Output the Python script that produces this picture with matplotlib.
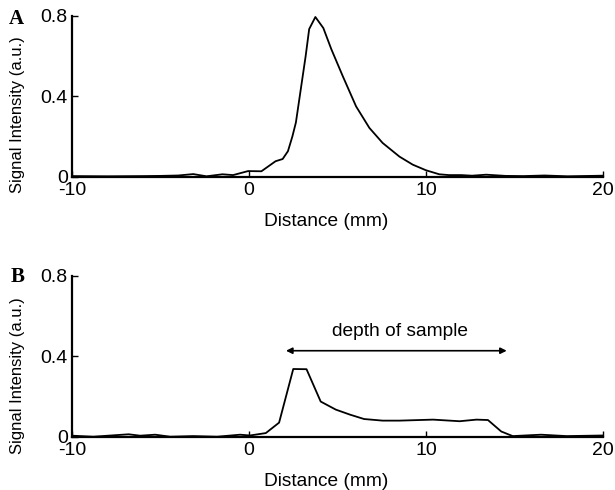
import matplotlib
matplotlib.use("Agg")
import matplotlib.pyplot as plt

# ---- data ----
a_x = [-10, -8, -6, -5, -4, -3.15, -2.4, -1.5, -0.9, -0.05, 0.7, 1.5, 1.9, 2.2, 2.45,
       2.65, 2.95, 3.2, 3.4, 3.75, 4.2, 4.65, 5.3, 6.05, 6.8, 7.55, 8.5, 9.25, 10.0,
       10.75, 11.3, 12.0, 12.6, 13.4, 14.5, 15.5, 16.7, 18.0, 20.0]
a_y = [0.003, 0.002, 0.003, 0.004, 0.006, 0.013, 0.002, 0.012, 0.008, 0.028, 0.027,
       0.077, 0.088, 0.127, 0.20, 0.27, 0.45, 0.60, 0.735, 0.795, 0.74, 0.635, 0.50,
       0.35, 0.243, 0.168, 0.10, 0.06, 0.032, 0.012, 0.008, 0.008, 0.005, 0.01, 0.004,
       0.003, 0.006, 0.002, 0.005]

b_x = [-10, -8.8, -6.8, -6.15, -5.3, -4.45, -3.15, -1.8, -0.5, 0.05, 0.95, 1.7, 2.5,
       3.25, 4.05, 4.9, 5.7, 6.5, 7.55, 8.5, 10.4, 11.9, 12.85, 13.5, 14.25, 14.9,
       16.5, 17.95, 20]
b_y = [0.005, 0.0, 0.012, 0.005, 0.01, 0.0, 0.003, 0.0, 0.01, 0.006, 0.018, 0.07,
       0.337, 0.336, 0.175, 0.135, 0.11, 0.088, 0.08, 0.08, 0.085, 0.077, 0.085,
       0.083, 0.026, 0.003, 0.01, 0.003, 0.006]

x_ticks = [-10, 0, 10, 20]
x_ticklabels = ["-10", "0", "10", "20"]
y_ticks = [0, 0.4, 0.8]
y_ticklabels = ["0", "0.4", "0.8"]
panel_labels = ["A", "B"]
x_label = "Distance (mm)"
y_label = "Signal Intensity (a.u.)"
depth_text = "depth of sample"
depth_span = [2.09, 14.56]
depth_arrow_y = 0.428
depth_text_pos = [8.53, 0.50]

plt.rcParams["font.family"] = ["Liberation Sans", "DejaVu Sans"]

fig = plt.figure(figsize=(6.15, 4.9), dpi=100)

ax_left = 72 / 615
ax_width = (603 - 72) / 615
ax_h = (176.7 - 16) / 490
ax_a = fig.add_axes([ax_left, 1 - 176.7 / 490, ax_width, ax_h])
ax_b = fig.add_axes([ax_left, 1 - 436.7 / 490, ax_width, ax_h])

for ax, xs, ys in [(ax_a, a_x, a_y), (ax_b, b_x, b_y)]:
    ax.plot(xs, ys, color="black", lw=1.3, clip_on=False, zorder=3)
    ax.set_xlim(-10, 20)
    ax.set_ylim(0, 0.8)
    ax.set_xticks(x_ticks)
    ax.set_xticklabels(x_ticklabels)
    ax.set_yticks(y_ticks)
    ax.set_yticklabels(y_ticklabels)
    ax.spines["top"].set_visible(False)
    ax.spines["right"].set_visible(False)
    for s in ["left", "bottom"]:
        ax.spines[s].set_linewidth(1.6)
        ax.spines[s].set_zorder(4)
    ax.tick_params(direction="in", length=4, width=1.0, labelsize=14, pad=3,
                   colors="black")
    ax.tick_params(axis="x", pad=3.5)

# x labels
for base in [225.7, 485.7]:
    fig.text(325.8 / 615, 1 - base / 490, x_label, ha="center", va="baseline",
             fontsize=13.8)
# y labels
for yc in [115, 376]:
    fig.text(17.5 / 615, 1 - yc / 490, y_label, rotation=90, ha="center",
             va="center", fontsize=12)
# panel letters
for lab, (px, py) in zip(panel_labels, [(16, 19), (17.5, 277.5)]):
    fig.text(px / 615, 1 - py / 490, lab, ha="center", va="center",
             fontsize=15, fontweight="bold", family="Liberation Serif")

# depth of sample annotation
ax_b.annotate("", xy=(depth_span[1], depth_arrow_y), xytext=(depth_span[0], depth_arrow_y),
              arrowprops=dict(arrowstyle="<|-|>", lw=1.2, color="black",
                              mutation_scale=9, shrinkA=0, shrinkB=0))
ax_b.text(depth_text_pos[0], depth_text_pos[1], depth_text, ha="center",
          va="baseline", fontsize=13.8)

fig.savefig("out.png", dpi=100)
